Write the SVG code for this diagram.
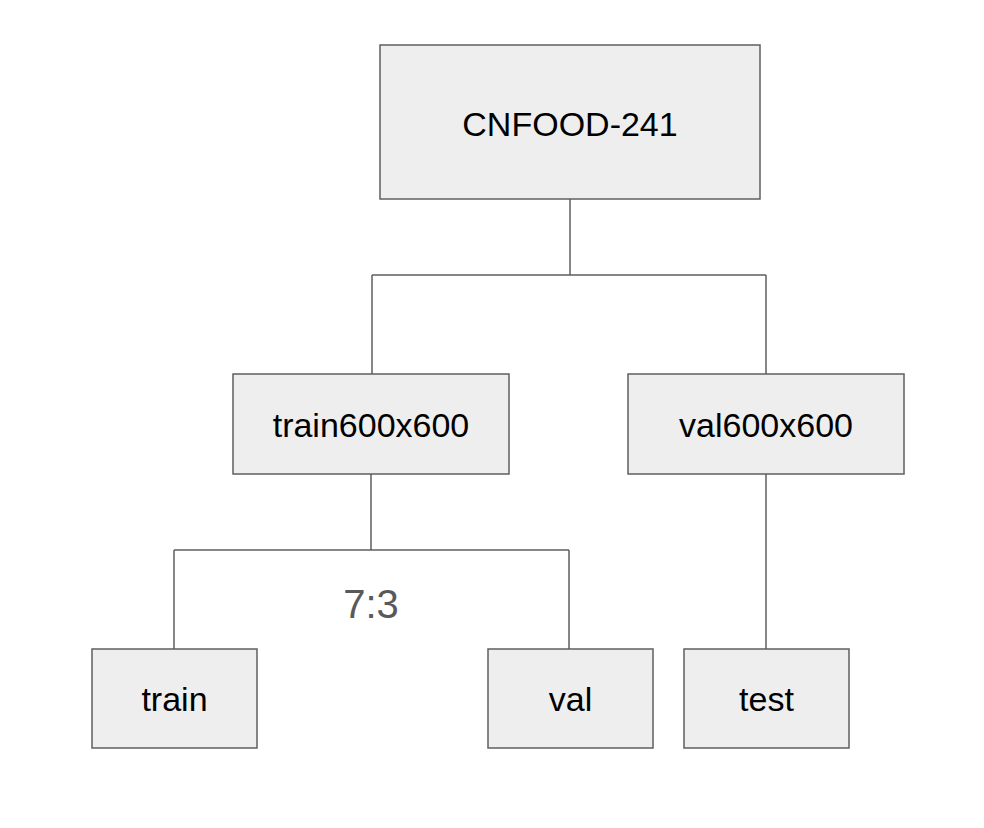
<svg xmlns="http://www.w3.org/2000/svg" width="984" height="828" viewBox="0 0 984 828">
<style>
.box{fill:#eeeeee;stroke:#5f5f5f;stroke-width:1.5}
.lbl{font-family:"Liberation Sans",Arial,sans-serif;font-size:34px;fill:#000000;text-anchor:middle}
.con{fill:none;stroke:#5f5f5f;stroke-width:1.5}
.note{font-family:"Liberation Sans",Arial,sans-serif;font-size:40px;fill:#595959;text-anchor:middle}
</style>
<rect width="984" height="828" fill="#ffffff"/>
<g id="connectors">
<path class="con" d="M570,199 V275 M372,275 H766 M372,275 V374 M766,275 V374"/>
<path class="con" d="M371,474 V550 M174,550 H569 M174,550 V649 M569,550 V649"/>
<path class="con" d="M766,474 V649"/>
</g>
<g id="cnfood">
<rect class="box" x="380" y="45" width="380" height="154"/>
<text class="lbl" x="570" y="136">CNFOOD-241</text>
</g>
<g id="train600">
<rect class="box" x="233" y="374" width="276" height="100"/>
<text class="lbl" x="371" y="437">train600x600</text>
</g>
<g id="val600">
<rect class="box" x="628" y="374" width="276" height="100"/>
<text class="lbl" x="766" y="437">val600x600</text>
</g>
<g id="train">
<rect class="box" x="92" y="649" width="165" height="99"/>
<text class="lbl" x="174.5" y="711">train</text>
</g>
<g id="val">
<rect class="box" x="488" y="649" width="165" height="99"/>
<text class="lbl" x="570.5" y="711">val</text>
</g>
<g id="test">
<rect class="box" x="684" y="649" width="165" height="99"/>
<text class="lbl" x="766.5" y="711">test</text>
</g>
<text class="note" x="371" y="618">7:3</text>
</svg>
